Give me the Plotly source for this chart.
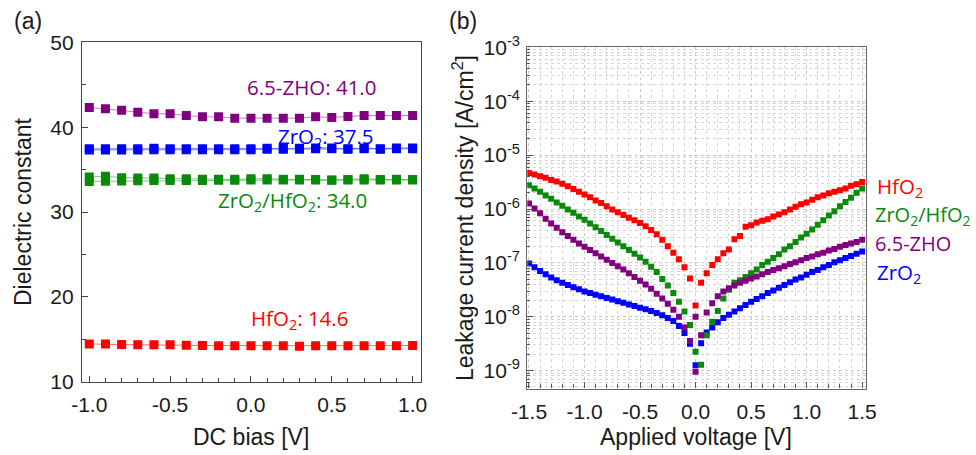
import plotly.graph_objects as go

# ---------------- data: panel (a) ----------------
dc_bias = [-1.0, -0.9, -0.8, -0.7, -0.6, -0.5, -0.4, -0.3, -0.2, -0.1, 0.0,
           0.1, 0.2, 0.3, 0.4, 0.5, 0.6, 0.7, 0.8, 0.9, 1.0]
eps_zho = [42.32, 42.16, 42.0, 41.77, 41.57, 41.57, 41.37, 41.22, 41.22, 41.06, 41.06,
           41.06, 41.06, 41.06, 41.22, 41.14, 41.26, 41.37, 41.37, 41.37, 41.37]
eps_zro2 = [37.45, 37.45, 37.45, 37.45, 37.5, 37.45, 37.45, 37.45, 37.45, 37.45, 37.45,
            37.5, 37.5, 37.5, 37.55, 37.55, 37.45, 37.55, 37.45, 37.55, 37.55]
eps_zro2_rev = [37.3, 37.3, 37.3, 37.32, 37.35, 37.35, 37.35, 37.35, 37.35, 37.35, 37.35,
                37.4, 37.4, 37.4, 37.45, 37.45, 37.4, 37.45, 37.4, 37.45, 37.45]
eps_zh = [34.13, 34.21, 34.05, 34.01, 34.01, 33.93, 33.93, 33.86, 33.86, 33.86, 33.93,
          33.93, 33.86, 33.86, 33.82, 33.74, 33.82, 33.93, 33.82, 33.86, 33.82]
eps_zh_rev = [33.6, 33.62, 33.65, 33.67, 33.7, 33.7, 33.72, 33.72, 33.74, 33.74, 33.76,
              33.76, 33.76, 33.76, 33.76, 33.76, 33.76, 33.78, 33.76, 33.78, 33.78]
eps_hfo2 = [14.45, 14.45, 14.38, 14.35, 14.35, 14.35, 14.31, 14.28, 14.25, 14.25, 14.25,
            14.25, 14.25, 14.18, 14.25, 14.25, 14.25, 14.25, 14.25, 14.25, 14.28]

# ---------------- data: panel (b) ----------------
voltage = [-1.5, -1.45, -1.4, -1.35, -1.3, -1.25, -1.2, -1.15, -1.1, -1.05, -1.0,
           -0.95, -0.9, -0.85, -0.8, -0.75, -0.7, -0.65, -0.6, -0.55, -0.5,
           -0.45, -0.4, -0.35, -0.3, -0.25, -0.2, -0.15, -0.1, -0.05, 0.0,
           0.05, 0.1, 0.15, 0.2, 0.25, 0.3, 0.35, 0.4, 0.45, 0.5,
           0.55, 0.6, 0.65, 0.7, 0.75, 0.8, 0.85, 0.9, 0.95, 1.0,
           1.05, 1.1, 1.15, 1.2, 1.25, 1.3, 1.35, 1.4, 1.45, 1.5]
# log10 of leakage current density [A/cm^2]
logj_hfo2 = [-5.33, -5.36, -5.39, -5.42, -5.46, -5.49, -5.53, -5.58, -5.63, -5.68, -5.73,
             -5.78, -5.84, -5.89, -5.95, -6.01, -6.06, -6.11, -6.16, -6.21, -6.26,
             -6.32, -6.39, -6.47, -6.57, -6.69, -6.81, -6.93, -7.08, -7.29, -7.79,
             -7.37, -7.19, -7.04, -6.93, -6.82, -6.75, -6.56, -6.50, -6.33, -6.30,
             -6.25, -6.22, -6.19, -6.14, -6.10, -6.06, -6.01, -5.96, -5.91, -5.88,
             -5.83, -5.78, -5.75, -5.71, -5.68, -5.65, -5.62, -5.57, -5.54, -5.50]
logj_zh = [-5.56, -5.62, -5.68, -5.75, -5.81, -5.88, -5.94, -6.01, -6.07, -6.14, -6.20,
           -6.27, -6.34, -6.41, -6.48, -6.55, -6.62, -6.69, -6.76, -6.83, -6.90,
           -6.98, -7.07, -7.17, -7.30, -7.42, -7.56, -7.72, -7.90, -8.15, -8.65,
           -8.89, -8.34, -8.09, -7.89, -7.66, -7.50, -7.37, -7.32, -7.26, -7.19,
           -7.12, -7.04, -6.98, -6.91, -6.84, -6.75, -6.69, -6.61, -6.53, -6.46,
           -6.38, -6.29, -6.21, -6.12, -6.04, -5.95, -5.87, -5.79, -5.70, -5.62]
logj_zho = [-5.90, -5.99, -6.08, -6.18, -6.27, -6.35, -6.43, -6.50, -6.57, -6.64, -6.70,
            -6.76, -6.82, -6.88, -6.94, -7.00, -7.06, -7.12, -7.19, -7.26, -7.33,
            -7.40, -7.48, -7.57, -7.66, -7.76, -7.87, -8.00, -8.20, -8.45, -9.02,
            -8.34, -7.92, -7.75, -7.62, -7.53, -7.47, -7.42, -7.37, -7.33, -7.29,
            -7.25, -7.21, -7.17, -7.13, -7.10, -7.06, -7.02, -6.99, -6.95, -6.91,
            -6.88, -6.84, -6.81, -6.77, -6.74, -6.70, -6.67, -6.64, -6.61, -6.57]
zho_extra_v = [0.0]
zho_extra_logj = [-8.00]
logj_zro2 = [-7.01, -7.08, -7.15, -7.21, -7.27, -7.32, -7.37, -7.41, -7.45, -7.49, -7.53,
             -7.56, -7.59, -7.62, -7.65, -7.68, -7.71, -7.74, -7.77, -7.80, -7.83,
             -7.86, -7.89, -7.93, -7.97, -8.02, -8.08, -8.17, -8.30, -8.50, -8.90,
             -8.49, -8.29, -8.20, -8.10, -8.02, -7.96, -7.90, -7.84, -7.78, -7.72,
             -7.67, -7.62, -7.56, -7.51, -7.46, -7.41, -7.36, -7.31, -7.27, -7.22,
             -7.17, -7.13, -7.08, -7.04, -6.99, -6.95, -6.91, -6.87, -6.83, -6.79]

a_ticks = [-1.0, -0.5, 0.0, 0.5, 1.0]
a_ticktext = ["-1.0", "-0.5", "0.0", "0.5", "1.0"]
b_xticks = [-1.5, -1.0, -0.5, 0.0, 0.5, 1.0, 1.5]
b_xticktext = ["-1.5", "-1.0", "-0.5", "0.0", "0.5", "1.0", "1.5"]
b_yticks = [1e-9, 1e-8, 1e-7, 1e-6, 1e-5, 1e-4, 1e-3]
b_yticktext = ["10<sup>-9</sup>", "10<sup>-8</sup>", "10<sup>-7</sup>", "10<sup>-6</sup>",
               "10<sup>-5</sup>", "10<sup>-4</sup>", "10<sup>-3</sup>"]

RED, GREEN, BLUE, PURPLE = "#ff0000", "#0a8a0a", "#0000ff", "#800080"

W, H = 976, 455
def fx(p):
    return p / W
def fy(p):
    return 1 - p / H

fig = go.Figure()

def add_a(y, color, rgba):
    fig.add_trace(go.Scatter(x=dc_bias, y=y, mode="lines+markers",
                             line=dict(color=rgba, width=1),
                             marker=dict(symbol="square", size=9, color=color),
                             xaxis="x", yaxis="y", hoverinfo="skip"))

add_a(eps_hfo2, RED, "rgba(255,0,0,0.6)")
add_a(eps_zh_rev, GREEN, "rgba(10,138,10,0.5)")
add_a(eps_zh, GREEN, "rgba(10,138,10,0.5)")
add_a(eps_zro2_rev, BLUE, "rgba(0,0,255,0.5)")
add_a(eps_zro2, BLUE, "rgba(0,0,255,0.5)")
add_a(eps_zho, PURPLE, "rgba(128,0,128,0.5)")

def add_b(v, logj, color):
    fig.add_trace(go.Scatter(x=v, y=[10 ** e for e in logj], mode="markers",
                             marker=dict(symbol="square", size=6, color=color),
                             xaxis="x2", yaxis="y2", hoverinfo="skip"))

add_b(voltage, logj_zro2, BLUE)
add_b(voltage, logj_hfo2, RED)
add_b(voltage, logj_zh, GREEN)
add_b(voltage, logj_zho, PURPLE)
add_b(zho_extra_v, zho_extra_logj, PURPLE)

FONT = "Arial, Liberation Sans, sans-serif"
LFONT = "Open Sans, Noto Sans, sans-serif"
tickfont = dict(family=FONT, size=21, color="#1a1a1a")

fig.update_layout(
    template="none",
    width=W, height=H, margin=dict(l=0, r=0, t=0, b=0, pad=0, autoexpand=False),
    paper_bgcolor="white", plot_bgcolor="white", showlegend=False,
    xaxis=dict(domain=[fx(82), fx(420.7)], range=[-1.045, 1.05], anchor="y", automargin=False,
               tickmode="array", tickvals=a_ticks, ticktext=a_ticktext,
               ticks="inside", ticklen=6, tickcolor="#444", showgrid=False, zeroline=False,
               showline=True, mirror=True, linecolor="#444", linewidth=1.3,
               tickfont=tickfont, ticklabelstandoff=4,
               minor=dict(ticks="inside", ticklen=4, dtick=0.1, tick0=0, tickcolor="#444")),
    yaxis=dict(domain=[fy(381.7), fy(42.3)], range=[10, 50], anchor="x", automargin=False,
               tickmode="linear", tick0=10, dtick=10,
               ticks="inside", ticklen=6, tickcolor="#444", showgrid=False, zeroline=False,
               showline=True, mirror=True, linecolor="#444", linewidth=1.3,
               tickfont=tickfont, ticklabelstandoff=3,
               minor=dict(ticks="inside", ticklen=4, dtick=5, tick0=0, tickcolor="#444")),
    xaxis2=dict(domain=[fx(527.3), fx(865.5)], range=[-1.515, 1.53], anchor="y2", automargin=False,
                tickmode="array", tickvals=b_xticks, ticktext=b_xticktext,
                ticks="inside", ticklen=6, tickcolor="#555", zeroline=False,
                showgrid=True, gridcolor="#c8c8c8", griddash="dot", gridwidth=1,
                showline=True, mirror=True, linecolor="#666", linewidth=1.3,
                tickfont=tickfont, ticklabelstandoff=4,
                minor=dict(ticks="inside", ticklen=4, dtick=0.1, tick0=0, tickcolor="#555",
                           showgrid=True, gridcolor="#d6d6d6", griddash="dot", gridwidth=1)),
    yaxis2=dict(domain=[fy(388.5), fy(47.3)], type="log", range=[-9.33, -3], anchor="x2",
                automargin=False,
                tickmode="array", tickvals=b_yticks, ticktext=b_yticktext,
                ticks="inside", ticklen=6, tickcolor="#555", zeroline=False,
                showgrid=True, gridcolor="#c8c8c8", griddash="dot", gridwidth=1,
                showline=True, mirror=True, linecolor="#666", linewidth=1.3,
                tickfont=tickfont, ticklabelstandoff=2,
                minor=dict(ticks="inside", ticklen=3, dtick="D1", tickcolor="#555",
                           showgrid=True, gridcolor="#d6d6d6", griddash="dot", gridwidth=1)),
)

def ann(text, x, y, size, color, xanchor="center", angle=0, family=FONT):
    fig.add_annotation(text=text, xref="paper", yref="paper", x=fx(x), y=fy(y),
                       xanchor=xanchor, yanchor="middle", showarrow=False, textangle=angle,
                       font=dict(family=family, size=size, color=color))

# panel labels
ann("(a)", 28, 21, 23, "#1a1a1a")
ann("(b)", 463, 21, 23, "#1a1a1a")
# axis titles
ann("DC bias [V]", 251, 437, 23, "#1a1a1a")
ann("Applied voltage [V]", 696, 437, 23, "#1a1a1a")
ann("Dielectric constant", 23, 212, 23, "#1a1a1a", angle=-90)
ann("Leakage current density [A/cm<sup>2</sup>]", 463, 218, 23, "#1a1a1a", angle=-90)
# panel (a) labels
ann("6.5-ZHO: 41.0", 311, 87, 20.5, PURPLE, family=LFONT)
ann("ZrO<sub>2</sub>: 37.5", 326, 137, 20.5, BLUE, family=LFONT)
ann("ZrO<sub>2</sub>/HfO<sub>2</sub>: 34.0", 292, 201, 20.5, GREEN, family=LFONT)
ann("HfO<sub>2</sub>: 14.6", 299, 319, 20.5, RED, family=LFONT)
# panel (b) labels
ann("HfO<sub>2</sub>", 875, 187, 20.5, RED, xanchor="left", family=LFONT)
ann("ZrO<sub>2</sub>/HfO<sub>2</sub>", 873, 215, 20, GREEN, xanchor="left", family=LFONT)
ann("6.5-ZHO", 873, 243, 20, PURPLE, xanchor="left", family=LFONT)
ann("ZrO<sub>2</sub>", 875, 273, 20.5, BLUE, xanchor="left", family=LFONT)

fig.write_html("out.html")
